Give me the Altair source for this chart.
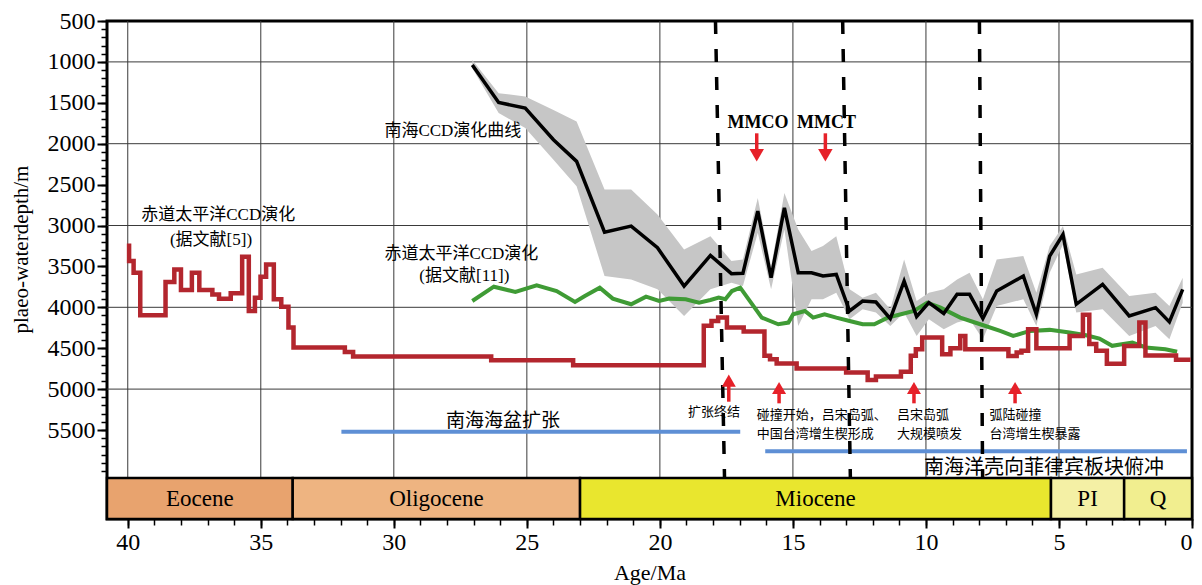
import altair as alt
import pandas as pd

# ---------------- data ----------------
# South China Sea CCD (black line) with its uncertainty band (grey)
scs_age = [27.05, 26.06, 25.06, 24.0, 23.13, 22.08, 21.08, 20.09, 19.09, 18.10,
           17.31, 16.88, 16.32, 15.82, 15.32, 14.80, 14.30, 13.87, 13.37, 12.87,
           12.38, 11.88, 11.34, 10.82, 10.35, 9.89, 9.33, 8.83, 8.36, 7.86,
           7.34, 6.34, 5.85, 5.35, 4.85, 4.35, 3.36, 2.36, 1.37, 0.85, 0.35]
scs_depth = [1037, 1496, 1565, 1951, 2216, 3081, 3008, 3272, 3740, 3366,
             3589, 3585, 2825, 3638, 2784, 3577, 3577, 3618, 3598, 4045,
             3923, 3935, 4138, 3679, 4113, 3943, 4077, 3841, 3841, 4138,
             3801, 3618, 4085, 3374, 3110, 3963, 3720, 4106, 4004, 4179, 3780]
scs_shallow = [976, 1382, 1423, 1589, 1728, 2561, 2561, 2866, 3293, 3130,
               3435, 3415, 2663, 3500, 2602, 3049, 3313, 3252, 3130, 3780,
               3882, 3821, 4024, 3415, 3923, 3821, 3780, 3659, 3577, 3902,
               3415, 3374, 3821, 3252, 3008, 3598, 3516, 3862, 3821, 3984, 3638]
scs_deep = [1077, 1626, 1809, 2195, 2520, 3618, 3659, 3780, 4106, 3780,
            3699, 3740, 3089, 3780, 3049, 4228, 3902, 3902, 3821, 4146,
            4024, 4065, 4228, 4065, 4350, 4146, 4268, 4187, 4146, 4390,
            3984, 3902, 4228, 3577, 3232, 4065, 4024, 4350, 4228, 4390, 3943]

# Equatorial Pacific CCD [11] (green)
eq11_age = [27.05, 26.24, 25.43, 24.63, 23.88, 23.19, 22.82, 22.26, 21.77, 21.08,
            20.52, 20.03, 19.65, 19.03, 18.53, 18.10, 17.79, 17.54, 17.29, 16.98,
            16.67, 16.17, 15.55, 15.17, 14.99, 14.55, 14.24, 13.81, 13.37, 12.87,
            12.38, 11.94, 11.44, 10.94, 10.45, 9.95, 9.45, 8.71, 7.96, 7.21,
            6.72, 6.09, 5.35, 4.60, 3.98, 3.48, 3.0, 2.24, 1.74, 1.00, 0.56]
eq11_depth = [3923, 3748, 3813, 3732, 3801, 3935, 3862, 3760, 3894, 3963,
              3870, 3923, 3894, 3902, 3943, 3911, 3882, 3902, 3801, 3760,
              3900, 4126, 4207, 4187, 4085, 4045, 4126, 4085, 4126, 4167,
              4207, 4207, 4126, 4085, 4045, 3943, 4004, 4126, 4207, 4289,
              4350, 4289, 4276, 4309, 4342, 4382, 4471, 4430, 4491, 4512, 4544]

# Equatorial Pacific CCD [5] (red step curve): level changes
eq5_start_age, eq5_start_depth, eq5_end_age = 39.95, 3220, 0.05
eq5_change_age = [39.95, 39.78, 39.53, 38.58, 38.25, 38.0, 37.59, 37.31, 36.82, 36.57,
                  36.13, 35.70, 35.45, 35.22, 35.01, 34.80, 34.51, 34.23, 33.96, 33.77,
                  31.84, 31.53, 26.34, 23.26, 18.35, 18.06, 17.81, 17.48, 16.85, 16.07,
                  15.86, 15.61, 14.86, 13.0, 12.19, 11.88, 10.94, 10.57, 10.38, 10.14,
                  9.39, 9.08, 8.71, 8.52, 6.90, 6.59, 6.41, 6.16, 5.85, 4.60,
                  4.10, 3.86, 3.6, 3.2, 2.55, 1.98, 1.75, 0.6]
eq5_level = [3435, 3577, 4098, 3691, 3537, 3789, 3577, 3789, 3842, 3895,
             3829, 3382, 4045, 3882, 3626, 3476, 3903, 3992, 4248, 4492,
             4545, 4602, 4647, 4708, 4227, 4166, 4126, 4248, 4296, 4593,
             4634, 4687, 4748, 4796, 4890, 4845, 4788, 4593, 4512, 4370,
             4574, 4500, 4350, 4513, 4594, 4553, 4530, 4269, 4500, 4350,
             4090, 4450, 4530, 4690, 4472, 4187, 4590, 4640]

# tectonic periods (blue bars)
tect_label = ["南海海盆扩张", "南海洋壳向菲律宾板块俯冲"]
tect_from = [31.97, 16.04]
tect_to = [16.98, 0.19]
tect_depth = [5520, 5760]
tect_label_age = [25.9, 5.56]
tect_label_depth = [5390, 5965]
tect_label_size = [19, 20]

# dashed event boundaries (slightly slanted in the figure)
dash_age_top = [17.91, 13.13, 7.99]
dash_age_bottom = [17.57, 12.84, 7.87]

# red arrows (events)
up_arrow_age = [17.41, 15.52, 10.45, 6.65]
up_arrow_head = [4897, 4987, 4987, 4987]
up_arrow_tail = [5154, 5174, 5174, 5174]
down_arrow_age = [16.36, 13.78]
down_arrow_tail = [1873, 1873]
down_arrow_head = [2141, 2141]

# text annotations
curve_text = ["南海CCD演化曲线", "赤道太平洋CCD演化", "(据文献[11])", "赤道太平洋CCD演化", "(据文献[5])"]
curve_text_age = [27.78, 27.46, 27.35, 36.6, 36.87]
curve_text_depth = [1845, 3348, 3617, 2872, 3177]

climate_text = ["MMCO", "MMCT"]
climate_text_age = [16.31, 13.74]
climate_text_depth = [1747, 1747]

event_text = ["扩张终结", "碰撞开始，吕宋岛弧、", "中国台湾增生楔形成", "吕宋岛弧", "大规模喷发",
              "弧陆碰撞", "台湾增生楔暴露"]
event_text_age = [18.94, 16.36, 16.36, 11.09, 11.09, 7.61, 7.61]
event_text_depth = [5276, 5317, 5549, 5317, 5549, 5317, 5549]

# geological epochs
epoch_name = ["Eocene", "Oligocene", "Miocene", "PI", "Q"]
epoch_start = [40.78, 33.8, 23.0, 5.3, 2.55]
epoch_end = [33.8, 23.0, 5.3, 2.55, 0.0]
epoch_color = ["#E8A36E", "#EEB481", "#E9E62E", "#F4F0A5", "#F1EE8F"]

# axes
x_major = list(range(0, 41, 5))
x_minor = list(range(0, 41))
y_major = list(range(500, 5501, 500))
y_minor = list(range(500, 6001, 100))
grid_age = list(range(5, 41, 5))
grid_depth = [1000, 2000, 3000, 4000, 5000]

# ---------------- layout constants ----------------
AGE_MAX = 40.78
DEPTH_TOP, DEPTH_BOTTOM = 500, 6588
BAR_TOP = 6087
FONT_SERIF = "Liberation Serif"
FONT_MIX = "Liberation Serif, Noto Sans CJK SC"
FONT_CJK = "Noto Sans CJK SC"
RED = "#B3262E"
ARROW = "#E62129"

xs = alt.Scale(domain=[0, AGE_MAX], reverse=True, nice=False, zero=False)
ys = alt.Scale(domain=[DEPTH_TOP, DEPTH_BOTTOM], reverse=True, nice=False, zero=False)


def X(field, axis=None):
    return alt.X(field, type="quantitative", scale=xs, axis=axis)


def Y(field, axis=None):
    return alt.Y(field, type="quantitative", scale=ys, axis=axis)


# ---------------- tables ----------------
scs_df = pd.DataFrame({"age": scs_age, "depth": scs_depth, "lo": scs_shallow, "hi": scs_deep})
eq11_df = pd.DataFrame({"age": eq11_age, "depth": eq11_depth})

verts = [(eq5_start_age, eq5_start_depth)]
for a, lv in zip(eq5_change_age, eq5_level):
    verts.append((a, verts[-1][1]))
    verts.append((a, lv))
verts.append((eq5_end_age, eq5_level[-1]))
eq5_df = pd.DataFrame({"age": [v[0] for v in verts], "depth": [v[1] for v in verts],
                       "i": list(range(len(verts)))})

tect_df = pd.DataFrame({"a1": tect_from, "a2": tect_to, "depth": tect_depth})
tect_lab_df = pd.DataFrame({"t": tect_label, "age": tect_label_age, "depth": tect_label_depth,
                            "size": tect_label_size})
dash_df = pd.DataFrame({"a1": dash_age_top, "a2": dash_age_bottom,
                        "d1": [DEPTH_TOP] * len(dash_age_top), "d2": [BAR_TOP] * len(dash_age_top)})
up_df = pd.DataFrame({"age": up_arrow_age, "head": up_arrow_head, "tail": up_arrow_tail})
down_df = pd.DataFrame({"age": down_arrow_age, "head": down_arrow_head, "tail": down_arrow_tail})
curve_df = pd.DataFrame({"t": curve_text, "age": curve_text_age, "depth": curve_text_depth})
clim_df = pd.DataFrame({"t": climate_text, "age": climate_text_age, "depth": climate_text_depth})
event_df = pd.DataFrame({"t": event_text, "age": event_text_age, "depth": event_text_depth})
epoch_df = pd.DataFrame({"name": epoch_name, "a1": epoch_start, "a2": epoch_end,
                         "d1": [BAR_TOP] * 5, "d2": [DEPTH_BOTTOM] * 5})
epoch_df["mid"] = (epoch_df["a1"] + epoch_df["a2"]) / 2
epoch_df["dmid"] = (BAR_TOP + DEPTH_BOTTOM) / 2

# ---------------- axes ----------------
ax_x_major = alt.Axis(orient="bottom", values=x_major, format="d", tickSize=9, tickWidth=2,
                      tickColor="black", domain=False, grid=False, labelFont=FONT_SERIF,
                      labelFontSize=24, labelColor="black", labelPadding=2, labelFlush=True,
                      labelOverlap=False, title="Age/Ma", titleFont=FONT_SERIF, titleFontSize=22,
                      titleFontWeight="normal", titleColor="black", titlePadding=8)
ax_x_minor = alt.Axis(orient="bottom", values=x_minor, tickSize=6, tickWidth=1.5, tickColor="black",
                      labels=False, domain=False, grid=False, title=None)
ax_y_major = alt.Axis(orient="left", values=y_major, format="d", tickSize=10, tickWidth=2,
                      tickColor="black", domain=False, grid=False, labelFont=FONT_SERIF,
                      labelFontSize=24, labelColor="black", labelPadding=2, labelFlush=False,
                      labelOverlap=False, title="plaeo-waterdepth/m", titleFont=FONT_SERIF,
                      titleFontSize=21, titleFontWeight="normal", titleColor="black",
                      titleX=-80, titleY=228, titleBaseline="alphabetic")
ax_y_minor = alt.Axis(orient="left", values=y_minor, tickSize=6, tickWidth=1.5, tickColor="black",
                      labels=False, domain=False, grid=False, title=None)

# ---------------- layers ----------------
hgrid = alt.Chart(pd.DataFrame({"depth": grid_depth})).mark_rule(color="#3a3a3a", strokeWidth=1).encode(
    y=Y("depth", ax_y_major))
vgrid = alt.Chart(pd.DataFrame({"age": grid_age})).mark_rule(color="#3a3a3a", strokeWidth=1).encode(
    x=X("age", ax_x_major))
minor_x = alt.Chart(pd.DataFrame({"age": x_minor})).mark_point(opacity=0, size=1).encode(
    x=X("age", ax_x_minor))
minor_y = alt.Chart(pd.DataFrame({"depth": y_minor})).mark_point(opacity=0, size=1).encode(
    y=Y("depth", ax_y_minor))

band = alt.Chart(scs_df).mark_area(color="#C6C6C6", opacity=1).encode(
    x=X("age"), y=Y("lo"), y2=alt.Y2("hi"))
green = alt.Chart(eq11_df).mark_line(color="#3F9B35", strokeWidth=4).encode(
    x=X("age"), y=Y("depth"))
red = alt.Chart(eq5_df).mark_line(color=RED, strokeWidth=4.5, strokeJoin="miter").encode(
    x=X("age"), y=Y("depth"), order=alt.Order("i:Q"))
black = alt.Chart(scs_df).mark_line(color="black", strokeWidth=3.5).encode(
    x=X("age"), y=Y("depth"))

tect = alt.Chart(tect_df).mark_rule(color="#5E8FD5", strokeWidth=4).encode(
    x=X("a1"), x2=alt.X2("a2"), y=Y("depth"))
tect_lab = alt.Chart(tect_lab_df).mark_text(font=FONT_CJK, color="black", align="center",
                                            baseline="middle").encode(
    x=X("age"), y=Y("depth"), text="t:N", size=alt.Size("size:Q", scale=None))

dashes = alt.Chart(dash_df).mark_rule(color="black", strokeWidth=3.5, strokeDash=[13, 15]).encode(
    x=X("a1"), x2=alt.X2("a2"), y=Y("d1"), y2=alt.Y2("d2"))

up_shaft = alt.Chart(up_df).mark_rule(color=ARROW, strokeWidth=3.5).encode(
    x=X("age"), y=Y("head"), y2=alt.Y2("tail"))
up_head = alt.Chart(up_df).mark_point(shape="triangle-up", filled=True, color=ARROW, size=196,
                                      opacity=1).encode(x=X("age"), y=Y("head"))
down_shaft = alt.Chart(down_df).mark_rule(color=ARROW, strokeWidth=3.5).encode(
    x=X("age"), y=Y("tail"), y2=alt.Y2("head"))
down_head = alt.Chart(down_df).mark_point(shape="triangle-down", filled=True, color=ARROW, size=210,
                                          opacity=1).encode(x=X("age"), y=Y("head"))

curve_lab = alt.Chart(curve_df).mark_text(font=FONT_MIX, fontSize=17, color="black", align="center",
                                          baseline="middle").encode(x=X("age"), y=Y("depth"), text="t:N")
clim_lab = alt.Chart(clim_df).mark_text(font=FONT_SERIF, fontSize=18, fontWeight="bold", color="black",
                                        align="center", baseline="middle").encode(
    x=X("age"), y=Y("depth"), text="t:N")
event_lab = alt.Chart(event_df).mark_text(font=FONT_CJK, fontSize=13, color="black", align="left",
                                          baseline="middle").encode(x=X("age"), y=Y("depth"), text="t:N")

epochs = alt.Chart(epoch_df).mark_rect(stroke="black", strokeWidth=2.5, opacity=1).encode(
    x=X("a1"), x2=alt.X2("a2"), y=Y("d1"), y2=alt.Y2("d2"),
    color=alt.Color("name:N", scale=alt.Scale(domain=epoch_name, range=epoch_color), legend=None))
epoch_lab = alt.Chart(epoch_df).mark_text(font=FONT_SERIF, fontSize=23, color="black", align="center",
                                          baseline="middle").encode(x=X("mid"), y=Y("dmid"), text="name:N")

chart = alt.layer(
    hgrid, vgrid, minor_x, minor_y, band, green, red, black, tect, tect_lab, dashes,
    up_shaft, up_head, down_shaft, down_head, curve_lab, clim_lab, event_lab, epochs, epoch_lab
).resolve_axis(x="independent", y="independent").properties(
    width=1085, height=498,
    autosize=alt.AutoSizeParams(type="none"),
    padding={"left": 99, "top": 13, "right": 2, "bottom": 70},
    background="white",
).configure_view(stroke="black", strokeWidth=3)

chart.save("out.html", embed_options={"renderer": "svg", "actions": False})
